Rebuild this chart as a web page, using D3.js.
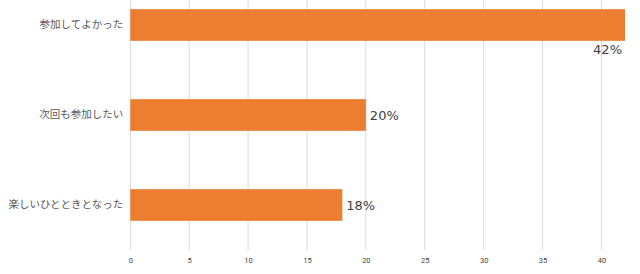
<!DOCTYPE html>
<html><head><meta charset="utf-8">
<script src="https://cdn.jsdelivr.net/npm/d3@7"></script>
<style>body{margin:0;background:#fff;}svg{display:block;}</style>
</head><body>
<script>
const categories = ["参加してよかった", "次回も参加したい", "楽しいひとときとなった"];
const values = [42, 20, 18];
const valueLabels = ["42%", "20%", "18%"];
const tickValues = [0, 5, 10, 15, 20, 25, 30, 35, 40];

const W = 640, H = 274;
const svg = d3.select("body").append("svg").attr("width", W).attr("height", H);
const x = d3.scaleLinear().domain([0, 42]).range([130.3, 625]);
const y = d3.scaleBand().domain(categories).range([-20, 250]).paddingInner(0.648).paddingOuter(0.324);

const grid = svg.append("g");
grid.selectAll("line").data(tickValues).join("line")
  .attr("x1", d => x(d)).attr("x2", d => x(d))
  .attr("y1", 0).attr("y2", 250)
  .attr("stroke", "#d9d9d9").attr("stroke-width", 1);

const xAxis = d3.axisBottom(x).tickValues(tickValues).tickSize(0).tickPadding(0);
const ax = svg.append("g").attr("transform", "translate(0,258)").call(xAxis);
ax.select(".domain").remove();
ax.selectAll("text").attr("font-family", "Roboto, sans-serif").attr("font-size", 7.5).attr("fill", "#404040");

svg.append("g").selectAll("rect").data(values).join("rect")
  .attr("x", x(0)).attr("y", (d, i) => y(categories[i]))
  .attr("width", d => x(d) - x(0)).attr("height", y.bandwidth())
  .attr("fill", "#ED7D31");

const yAxis = d3.axisLeft(y).tickSize(0).tickPadding(7);
const ay = svg.append("g").attr("transform", `translate(${x(0)},0)`).call(yAxis);
ay.select(".domain").remove();
ay.selectAll("text").attr("font-family", "'Noto Sans CJK JP', sans-serif").attr("font-size", 10.5).attr("fill", "#595959");

svg.append("g").selectAll("text").data(values).join("text")
  .attr("x", (d, i) => i === 0 ? x(d) - 3 : x(d) + 4)
  .attr("y", (d, i) => i === 0 ? y(categories[i]) + y.bandwidth() + 9 : y(categories[i]) + y.bandwidth() / 2)
  .attr("dy", "0.35em")
  .attr("text-anchor", (d, i) => i === 0 ? "end" : "start")
  .attr("font-family", "'DejaVu Sans', sans-serif").attr("font-size", 13).attr("fill", "#404040")
  .text((d, i) => valueLabels[i]);
</script>
</body></html>
